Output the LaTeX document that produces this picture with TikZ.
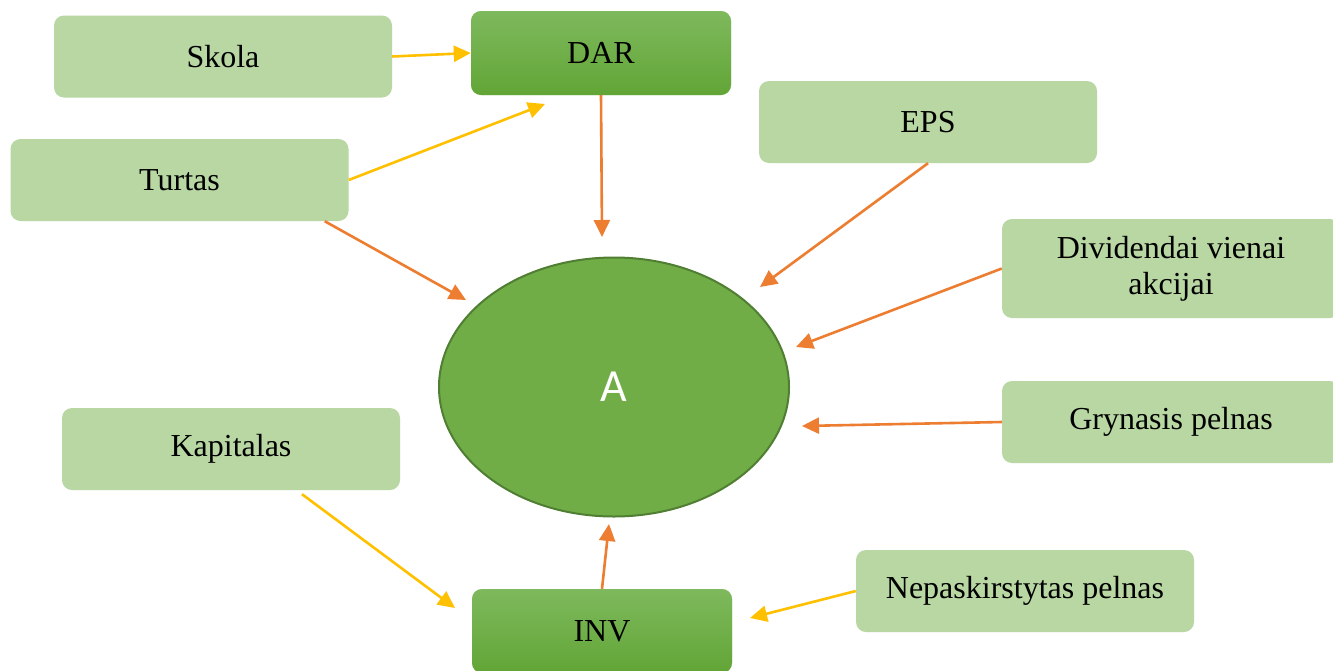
\documentclass[tikz,border=0pt]{standalone}
\usepackage{fontspec}
\setmainfont{Liberation Serif}
\newfontfamily\carlito{Carlito}
\usetikzlibrary{arrows.meta,shapes.geometric}
\definecolor{lightg}{HTML}{B8D7A3}
\definecolor{dgtop}{HTML}{7EB95D}
\definecolor{dgbot}{HTML}{62A536}
\definecolor{ellfill}{HTML}{70AD47}
\definecolor{elldraw}{HTML}{507E32}
\definecolor{yel}{HTML}{FFC000}
\definecolor{org}{HTML}{ED7D31}
\begin{document}
\begin{tikzpicture}[x=1pt,y=-1pt,
  lbox/.style={draw=none, fill=lightg, rounded corners=10pt, minimum width=338pt,
    minimum height=82pt, inner sep=0pt, font=\fontsize{32}{36}\selectfont, align=center},
  gbox/.style={lbox, top color=dgtop, bottom color=dgbot, minimum width=260pt, minimum height=84pt},
  yarr/.style={draw=yel, line width=2.6pt, -{Triangle[length=17pt,width=16pt,fill=yel]}},
  oarr/.style={draw=org, line width=2.6pt, -{Triangle[length=17pt,width=16pt,fill=org]}}]
\clip (0,0) rectangle (1333,670);
\fill[white] (0,0) rectangle (1333,670);

\node[lbox] (skola) at (223,56.5) {Skola};
\node[gbox] (dar) at (601,53) {\raisebox{-1.5pt}{DAR}};
\node[lbox] (turtas) at (179.5,180) {Turtas};
\node[lbox] (eps) at (928,122) {\raisebox{-1.5pt}{EPS}};
\node[lbox, minimum height=99pt] (div) at (1171,268.5) {Dividendai vienai\\akcijai};
\node[lbox] (gryn) at (1171,422) {Grynasis pelnas};
\node[lbox] (kap) at (231,449) {\raisebox{-1.5pt}{Kapitalas}};
\node[lbox] (nep) at (1025,591) {Nepaskirstytas pelnas};
\node[gbox] (inv) at (602,631) {\raisebox{-2pt}{INV}};
\node[ellipse, fill=ellfill, draw=elldraw, line width=2pt, minimum width=350pt,
  minimum height=259pt, inner sep=0pt, text=white, font=\carlito\fontsize{46}{50}\selectfont] (a) at (614,387) {A};

\coordinate (tTurY) at (545,104);
\coordinate (tTurO) at (466,300);
\coordinate (tDar) at (602,237);
\coordinate (tEps) at (760,287);
\coordinate (tDiv) at (796,347);
\coordinate (tGryn) at (802,426);
\coordinate (tKap) at (455,608);
\coordinate (tNep) at (750,618);
\coordinate (tInv) at (609,524);

\draw[yarr] (skola.east) -- (dar.west);
\draw[yarr] (turtas.east) -- (tTurY);
\draw[oarr] ([xshift=-24pt]turtas.south east) -- (tTurO);
\draw[oarr] (dar.south) -- (tDar);
\draw[oarr] (eps.south) -- (tEps);
\draw[oarr] (div.west) -- (tDiv);
\draw[oarr] (gryn.west) -- (tGryn);
\draw[yarr] ([xshift=71pt,yshift=-4pt]kap.south) -- (tKap);
\draw[yarr] (nep.west) -- (tNep);
\draw[oarr] (inv.north) -- (tInv);
\end{tikzpicture}
\end{document}
